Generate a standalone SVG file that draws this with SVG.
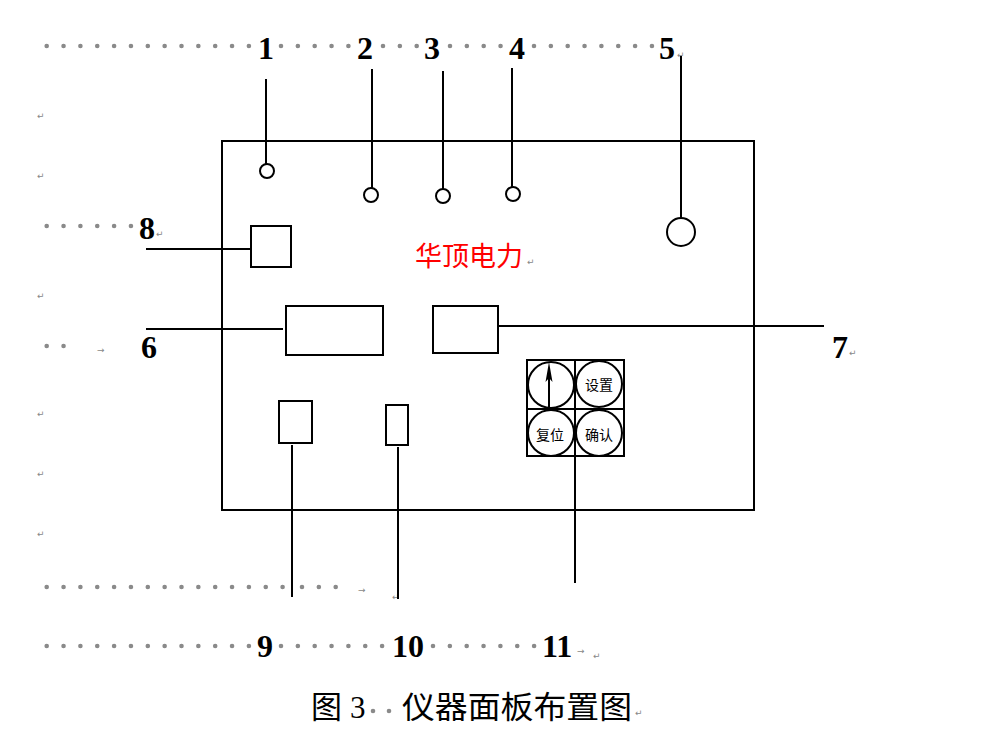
<svg xmlns="http://www.w3.org/2000/svg" width="993" height="749" viewBox="0 0 993 749">
<style>
.ln{stroke:#000;stroke-width:2;fill:none}
.sh{stroke:#000;stroke-width:2;fill:#fff}
.num{font-family:"Liberation Serif",serif;font-weight:bold;font-size:32px;fill:#000}
.dots{stroke:#8a8a8a;stroke-width:4.6;stroke-linecap:round;stroke-dasharray:0 16.85;fill:none}
.mk{font-family:"DejaVu Sans",sans-serif;font-size:9px;fill:#888}
.key{font-family:"Noto Sans CJK SC",sans-serif;font-size:14px;fill:#000;text-anchor:middle}
</style>
<rect width="993" height="749" fill="#fff"/>

<g id="dotleaders">
<line class="dots" x1="46.7" y1="46" x2="250" y2="46"/>
<line class="dots" x1="281" y1="46" x2="352" y2="46"/>
<line class="dots" x1="383" y1="46" x2="420" y2="46"/>
<line class="dots" x1="450" y1="46" x2="503" y2="46"/>
<line class="dots" x1="534" y1="46" x2="655" y2="46"/>
<line class="dots" x1="46.7" y1="226" x2="132" y2="226"/>
<line class="dots" x1="46.7" y1="346" x2="64" y2="346"/>
<line class="dots" x1="46.7" y1="587" x2="290" y2="587"/>
<line class="dots" x1="302" y1="587" x2="338" y2="587"/>
<line class="dots" x1="46.7" y1="646" x2="250" y2="646"/>
<line class="dots" x1="281" y1="646" x2="386" y2="646"/>
<line class="dots" x1="433" y1="646" x2="536" y2="646"/>
</g>

<g id="marks">
<text class="mk" x="37" y="119">↵</text>
<text class="mk" x="37" y="179">↵</text>
<text class="mk" x="37" y="299">↵</text>
<text class="mk" x="37" y="417">↵</text>
<text class="mk" x="37" y="477">↵</text>
<text class="mk" x="37" y="537">↵</text>
<text class="mk" x="677" y="58">↵</text>
<text class="mk" x="156" y="237">↵</text>
<text class="mk" x="97" y="353">→</text>
<text class="mk" x="849" y="356">↵</text>
<text class="mk" x="527" y="265">↵</text>
<text class="mk" x="358" y="593">→</text>
<text class="mk" x="392" y="600">↵</text>
<text class="mk" x="577" y="654">→</text>
<text class="mk" x="593" y="659">↵</text>
<text class="mk" x="635" y="716">↵</text>
</g>

<g id="labels">
<text class="num" x="258" y="59">1</text>
<text class="num" x="357" y="59">2</text>
<text class="num" x="424" y="59">3</text>
<text class="num" x="509" y="59">4</text>
<text class="num" x="659" y="59">5</text>
<text class="num" x="139" y="239">8</text>
<text class="num" x="141" y="358">6</text>
<text class="num" x="832" y="358">7</text>
<text class="num" x="257" y="657">9</text>
<text class="num" x="392" y="657">10</text>
<text class="num" x="542" y="657">11</text>
</g>

<g id="panel">
<rect class="ln" x="222" y="141" width="532" height="369"/>
<text x="469" y="266" font-family="Noto Sans CJK SC,sans-serif" font-size="27" fill="#ff0000" text-anchor="middle">华顶电力</text>
</g>

<g id="connectors">
<line class="ln" x1="266" y1="79" x2="266" y2="164"/>
<line class="ln" x1="372" y1="69" x2="372" y2="188"/>
<line class="ln" x1="443" y1="71" x2="443" y2="189"/>
<line class="ln" x1="512" y1="68" x2="512" y2="187"/>
<line class="ln" x1="681" y1="56" x2="681" y2="218"/>
<line class="ln" x1="146" y1="249" x2="251" y2="249"/>
<line class="ln" x1="146" y1="329" x2="283" y2="329"/>
<line class="ln" x1="498" y1="326" x2="824" y2="326"/>
<line class="ln" x1="292" y1="445" x2="292" y2="597"/>
<line class="ln" x1="398" y1="447" x2="398" y2="599"/>
<line class="ln" x1="575" y1="456" x2="575" y2="583"/>
</g>

<g id="indicator1"><circle class="sh" cx="267" cy="171" r="7"/></g>
<g id="indicator2"><circle class="sh" cx="371" cy="195" r="7"/></g>
<g id="indicator3"><circle class="sh" cx="443" cy="196" r="7"/></g>
<g id="indicator4"><circle class="sh" cx="513" cy="194" r="7"/></g>
<g id="knob5"><circle class="sh" cx="681" cy="232" r="14"/></g>
<g id="box8"><rect class="sh" x="251" y="226" width="40" height="41"/></g>
<g id="box6"><rect class="sh" x="286" y="306" width="97" height="49"/></g>
<g id="box7"><rect class="sh" x="433" y="306" width="65" height="47"/></g>
<g id="box9"><rect class="sh" x="279" y="401" width="33" height="42"/></g>
<g id="box10"><rect class="sh" x="386" y="405" width="22" height="40"/></g>

<g id="keypad11">
<rect class="ln" x="527" y="360" width="97" height="96"/>
<line class="ln" x1="575" y1="360" x2="575" y2="456"/>
<line class="ln" x1="527" y1="409" x2="624" y2="409"/>
<circle class="ln" cx="551" cy="385" r="23"/>
<circle class="ln" cx="599" cy="384" r="23"/>
<circle class="ln" cx="551" cy="433" r="23"/>
<circle class="ln" cx="599" cy="433" r="23"/>
<line x1="549" y1="408" x2="549" y2="376" stroke="#000" stroke-width="2"/>
<path d="M549 362 L552.5 382 L549 378 L545.5 382 Z" fill="#000"/>
<text class="key" x="599" y="390">设置</text>
<text class="key" x="550" y="440">复位</text>
<text class="key" x="599" y="440">确认</text>
</g>

<g id="caption">
<text x="311" y="718" font-family="Liberation Serif,Noto Sans CJK SC,serif" font-size="31" fill="#000">图</text>
<text x="350" y="718" font-family="Liberation Serif,serif" font-size="31" fill="#000">3</text>
<circle cx="373" cy="711" r="2.3" fill="#8a8a8a"/>
<circle cx="389" cy="711" r="2.3" fill="#8a8a8a"/>
<text x="402" y="718" font-family="Liberation Serif,Noto Sans CJK SC,serif" font-size="31" fill="#000" textLength="230" lengthAdjust="spacingAndGlyphs">仪器面板布置图</text>
</g>
</svg>
